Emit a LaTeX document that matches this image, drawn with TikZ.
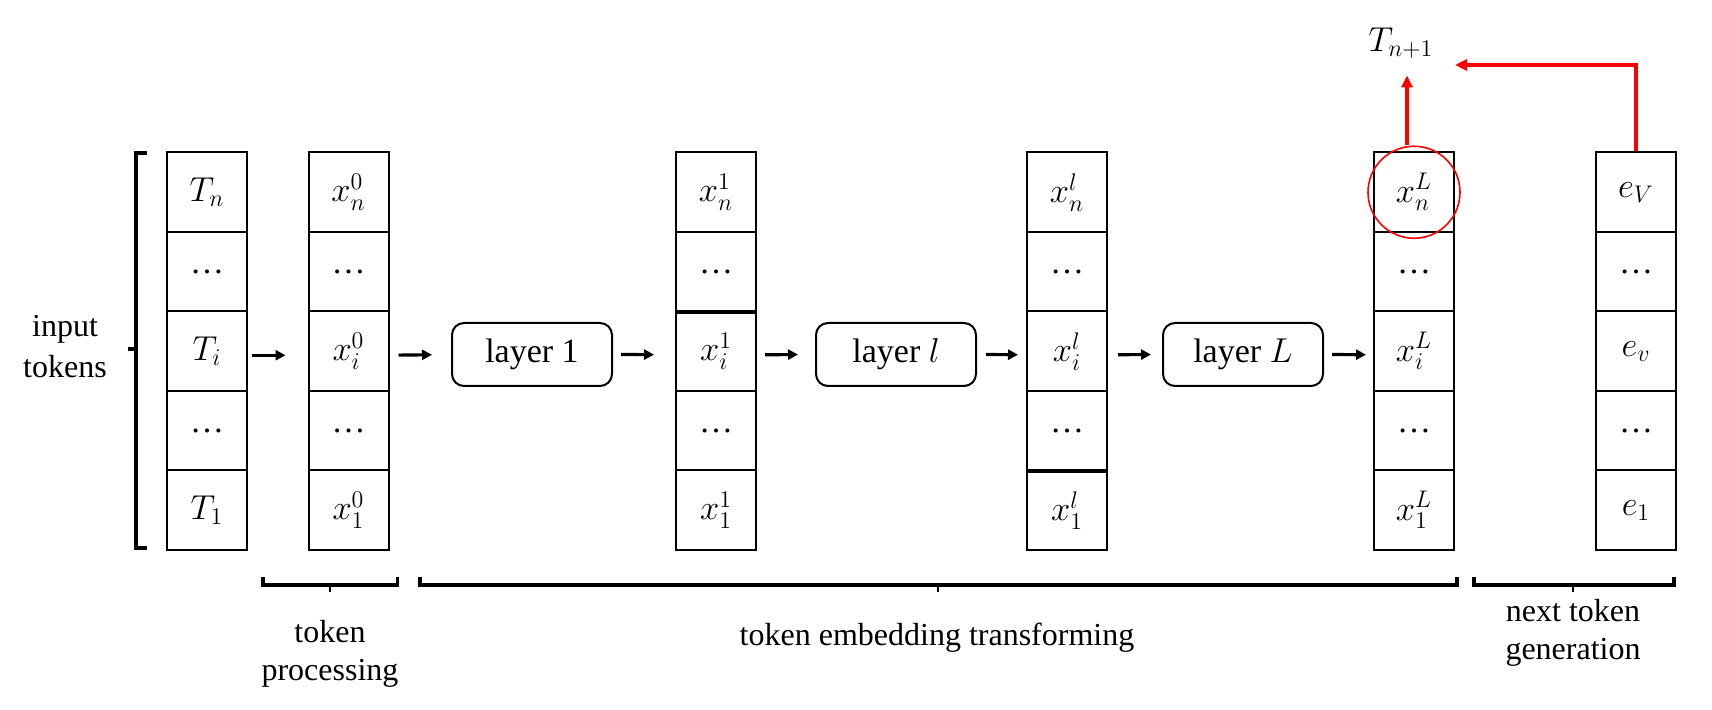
\documentclass[tikz,border=0pt]{standalone}
\usepackage{fontspec}
\setmainfont{Liberation Serif}
\usetikzlibrary{arrows.meta}
\newcommand\mkcol[7]{%
  \node[cell] (#1-1) at (#2,192.25) {#3};
  \node[cell] (#1-2) at (#2,271.75) {#4};
  \node[cell] (#1-3) at (#2,351.25) {#5};
  \node[cell] (#1-4) at (#2,430.75) {#6};
  \node[cell] (#1-5) at (#2,510.25) {#7};
}
\begin{document}
\begin{tikzpicture}[x=0.5pt,y=-0.5pt,
  cell/.style={draw, line width=1pt, minimum width=40pt, minimum height=39.75pt, inner sep=0pt, font=\fontsize{17}{20}\selectfont},
  layerbox/.style={draw, line width=1pt, rounded corners=6pt, minimum width=80pt, minimum height=31.5pt, inner sep=0pt, font=\fontsize{17}{20}\selectfont},
  arr/.style={-{Triangle[length=5pt,width=5pt]}, line width=1.6pt},
  redarr/.style={-{Triangle[length=6pt,width=5.5pt]}, line width=1.7pt, draw=red, color=red},
  brk/.style={line width=1.8pt},
  tick/.style={line width=1.1pt},
  lbl/.style={align=center, inner sep=0pt, font=\fontsize{16}{19}\selectfont}]
\useasboundingbox (0,0) rectangle (1712,710);

% columns
\mkcol{T}{207}{$T_n$}{…}{$T_i$}{…}{$T_1$}
\mkcol{xa}{348.5}{$x_n^0$}{…}{$x_i^0$}{…}{$x_1^0$}
\mkcol{xb}{716}{$x_n^1$}{…}{$x_i^1$}{…}{$x_1^1$}
\mkcol{xc}{1067}{$x_n^l$}{…}{$x_i^l$}{…}{$x_1^l$}
\mkcol{xd}{1414}{$x_n^L$}{…}{$x_i^L$}{…}{$x_1^L$}
\mkcol{e}{1636}{$e_V$}{…}{$e_v$}{…}{$e_1$}
\draw[line width=1.5pt] (xb-2.south west) -- (xb-2.south east);
\draw[line width=1.5pt] (xc-4.south west) -- (xc-4.south east);

% layers
\node[layerbox] (L1) at (532,354.5) {layer 1};
\node[layerbox] (Ll) at (896,354.5) {layer $l$};
\node[layerbox] (LL) at (1243,354.5) {layer $L$};

% arrows
\draw[arr, shorten <=2pt, shorten >=11pt] ([yshift=-2pt]T-3.east) -- ([yshift=-2pt]xa-3.west);
\draw[arr, shorten <=4.5pt, shorten >=9.5pt] ([yshift=-2pt]xa-3.east) -- (L1.west);
\draw[arr, shorten <=4pt, shorten >=10.5pt] (L1.east) -- ([yshift=-1.75pt]xb-3.west);
\draw[arr, shorten <=4pt, shorten >=8.5pt] ([yshift=-1.75pt]xb-3.east) -- (Ll.west);
\draw[arr, shorten <=4.5pt, shorten >=4pt] (Ll.east) -- ([yshift=-1.75pt]xc-3.west);
\draw[arr, shorten <=5pt, shorten >=5.5pt] ([yshift=-1.75pt]xc-3.east) -- (LL.west);
\draw[arr, shorten <=4pt, shorten >=3.5pt] (LL.east) -- ([yshift=-1.75pt]xd-3.west);

% red part
\node[draw=red, circle, line width=0.8pt, minimum size=46pt, inner sep=0pt] (ring) at (xd-1.center) {};
\node[inner sep=0pt, font=\fontsize{17}{20}\selectfont] (tn1) at (1401,43) {$T_{n+1}$};
\coordinate (tip) at (1455,65);
\draw[redarr] ([xshift=-3.5pt]ring.north) -- ++(0,-70);
\draw[redarr] (e-1.north) |- (tip);

% brackets
\draw[brk] (147,153) -- (136,153) -- (136,548) -- (147,548);
\draw[brk] (136,349) -- (128,349);
\draw[brk] (263,577) -- (263,585) -- (397.5,585) -- (397.5,577);
\draw[tick] (330,585) -- (330,592);
\draw[brk] (420,577) -- (420,585) -- (1457,585) -- (1457,577);
\draw[tick] (938,585) -- (938,592);
\draw[brk] (1474,577) -- (1474,585) -- (1674,585) -- (1674,577);
\draw[tick] (1573,585) -- (1573,592);

% labels
\node[lbl, font=\fontsize{16}{20.5}\selectfont] (inp) at (65,347) {input\\tokens};
\node[lbl] (tp) at (330,654) {token\\processing};
\node[lbl] (tet) at (937,638) {token embedding transforming};
\node[lbl] (ntg) at (1573,633) {next token\\generation};
\end{tikzpicture}
\end{document}
